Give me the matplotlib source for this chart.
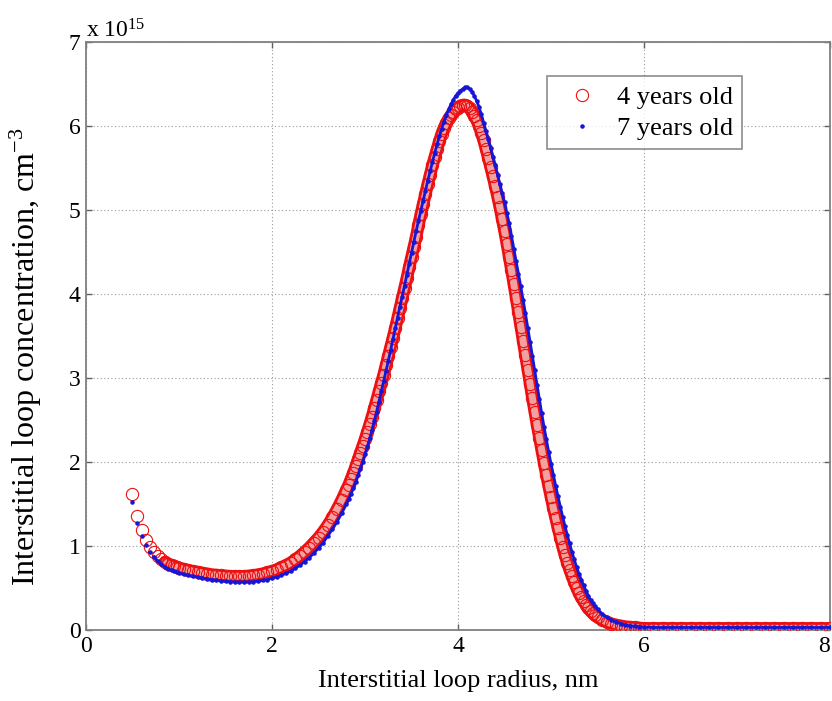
import matplotlib
matplotlib.use("Agg")
import matplotlib.pyplot as plt

# Loop radius, nm (sampling positions)
radius_nm = [
    0.49, 0.55, 0.60, 0.65, 0.69, 0.73, 0.77, 0.81, 0.85, 0.88, 0.92, 0.95, 0.98,
    1.00, 1.05, 1.10, 1.15, 1.20, 1.25, 1.30, 1.35, 1.40, 1.45,
    1.50, 1.55, 1.60, 1.65, 1.70, 1.75, 1.80, 1.85, 1.90, 1.95,
    2.00, 2.05, 2.10, 2.15, 2.20, 2.25, 2.30, 2.35, 2.40, 2.45,
    2.50, 2.55, 2.60, 2.65, 2.70, 2.75, 2.80,
    2.825, 2.850, 2.875, 2.900, 2.925, 2.950, 2.975, 3.000, 3.025, 3.050,
    3.075, 3.100, 3.125, 3.150, 3.175, 3.200, 3.225, 3.250, 3.275, 3.300,
    3.325, 3.350, 3.375, 3.400, 3.425, 3.450, 3.475, 3.500, 3.525, 3.550,
    3.575, 3.600, 3.625, 3.650, 3.675, 3.700, 3.725, 3.750, 3.775, 3.800,
    3.825, 3.850, 3.875, 3.900, 3.925, 3.950, 3.975, 4.000, 4.025, 4.050,
    4.075, 4.100, 4.125, 4.150, 4.175, 4.200, 4.225, 4.250, 4.275, 4.300,
    4.325, 4.350, 4.375, 4.400, 4.425, 4.450, 4.475, 4.500, 4.525, 4.550,
    4.575, 4.600, 4.625, 4.650, 4.675, 4.700, 4.725, 4.750, 4.775, 4.800,
    4.825, 4.850, 4.875, 4.900, 4.925, 4.950, 4.975, 5.000, 5.025, 5.050,
    5.075, 5.100, 5.125, 5.150, 5.175, 5.200, 5.225, 5.250, 5.275, 5.300,
    5.325, 5.350, 5.375, 5.400, 5.425, 5.450, 5.475, 5.500,
    5.55, 5.60, 5.65, 5.70, 5.75, 5.80, 5.85, 5.90, 5.95, 6.00,
    6.1, 6.2, 6.3, 6.4, 6.5, 6.6, 6.7, 6.8, 6.9, 7.0,
    7.1, 7.2, 7.3, 7.4, 7.5, 7.6, 7.7, 7.8, 7.9, 8.0,
]

# Concentration, units of 1e15 cm^-3 -- 4 years old
conc_4yr = [
    1.62, 1.36, 1.19, 1.07, 0.99, 0.93, 0.88, 0.84, 0.81, 0.79, 0.77, 0.76, 0.75,
    0.74, 0.725, 0.71, 0.70, 0.69, 0.68, 0.67, 0.66, 0.655, 0.65,
    0.645, 0.64, 0.64, 0.64, 0.64, 0.645, 0.65, 0.66, 0.67, 0.685,
    0.70, 0.72, 0.745, 0.77, 0.80, 0.84, 0.88, 0.93, 0.98, 1.04,
    1.10, 1.17, 1.25, 1.34, 1.44, 1.55, 1.67,
    1.73, 1.80, 1.87, 1.95, 2.03, 2.11, 2.19, 2.27, 2.36, 2.45,
    2.54, 2.64, 2.74, 2.84, 2.94, 3.04, 3.15, 3.26, 3.37, 3.48,
    3.59, 3.71, 3.83, 3.95, 4.07, 4.19, 4.32, 4.44, 4.56, 4.68,
    4.82, 4.95, 5.07, 5.19, 5.31, 5.42, 5.53, 5.63, 5.73, 5.82,
    5.91, 5.98, 6.04, 6.09, 6.13, 6.17, 6.20, 6.22, 6.24, 6.25,
    6.25, 6.24, 6.21, 6.17, 6.12, 6.07, 6.00, 5.92, 5.83, 5.73,
    5.62, 5.51, 5.40, 5.28, 5.16, 5.03, 4.89, 4.75, 4.60, 4.44,
    4.28, 4.12, 3.95, 3.78, 3.61, 3.44, 3.27, 3.10, 2.93, 2.76,
    2.60, 2.44, 2.29, 2.14, 1.99, 1.85, 1.71, 1.58, 1.45, 1.33,
    1.21, 1.10, 0.99, 0.89, 0.80, 0.72, 0.64, 0.57, 0.50, 0.44,
    0.39, 0.34, 0.30, 0.26, 0.23, 0.20, 0.175, 0.155,
    0.12, 0.095, 0.075, 0.06, 0.05, 0.04, 0.035, 0.03, 0.025, 0.02,
    0.02, 0.02, 0.02, 0.02, 0.02, 0.02, 0.02, 0.02, 0.02, 0.02,
    0.02, 0.02, 0.02, 0.02, 0.02, 0.02, 0.02, 0.02, 0.02, 0.02,
]

# Concentration, units of 1e15 cm^-3 -- 7 years old
conc_7yr = [
    1.52, 1.27, 1.12, 1.01, 0.93, 0.87, 0.82, 0.78, 0.75, 0.73, 0.71, 0.70, 0.69,
    0.68, 0.665, 0.65, 0.64, 0.63, 0.62, 0.61, 0.60, 0.59, 0.585,
    0.58, 0.575, 0.57, 0.57, 0.57, 0.57, 0.575, 0.58, 0.59, 0.60,
    0.615, 0.63, 0.65, 0.675, 0.70, 0.735, 0.77, 0.815, 0.86, 0.915,
    0.975, 1.04, 1.12, 1.20, 1.29, 1.39, 1.50,
    1.56, 1.62, 1.69, 1.76, 1.84, 1.92, 2.00, 2.09, 2.18, 2.28,
    2.38, 2.49, 2.60, 2.72, 2.84, 2.96, 3.08, 3.20, 3.33, 3.46,
    3.59, 3.72, 3.85, 3.97, 4.10, 4.23, 4.36, 4.49, 4.62, 4.75,
    4.87, 4.99, 5.11, 5.23, 5.35, 5.46, 5.57, 5.68, 5.78, 5.88,
    5.97, 6.05, 6.13, 6.20, 6.26, 6.31, 6.36, 6.39, 6.42, 6.44,
    6.46, 6.46, 6.44, 6.41, 6.36, 6.30, 6.23, 6.14, 6.04, 5.94,
    5.84, 5.74, 5.63, 5.53, 5.42, 5.31, 5.20, 5.09, 4.97, 4.84,
    4.69, 4.54, 4.39, 4.24, 4.09, 3.93, 3.77, 3.60, 3.43, 3.26,
    3.09, 2.92, 2.75, 2.58, 2.42, 2.27, 2.12, 1.98, 1.85, 1.72,
    1.59, 1.47, 1.35, 1.24, 1.13, 1.03, 0.93, 0.84, 0.75, 0.67,
    0.60, 0.53, 0.47, 0.41, 0.36, 0.32, 0.28, 0.25,
    0.19, 0.15, 0.12, 0.095, 0.075, 0.06, 0.05, 0.045, 0.04, 0.035,
    0.03, 0.03, 0.03, 0.03, 0.03, 0.03, 0.03, 0.03, 0.03, 0.03,
    0.03, 0.03, 0.03, 0.03, 0.03, 0.03, 0.03, 0.03, 0.03, 0.03,
]

series_labels = ["4 years old", "7 years old"]
x_ticks = [0, 2, 4, 6, 8]
y_ticks = [0, 1, 2, 3, 4, 5, 6, 7]

plt.rcParams["font.family"] = ["Liberation Serif", "DejaVu Serif"]
plt.rcParams["mathtext.fontset"] = "custom"
plt.rcParams["mathtext.rm"] = "Liberation Serif"
plt.rcParams["mathtext.it"] = "Liberation Serif:italic"

RED = "#ee1010"
BLUE = "#1616d8"

fig = plt.figure(figsize=(8.32, 7.01), dpi=100)
ax = fig.add_axes([86 / 832, 71 / 701, 744 / 832, 588 / 701])

# dense band look of the overlapping open circles (drawn from the same data)
ax.plot(radius_nm[8:], conc_4yr[8:], color=RED, linewidth=9.0,
        solid_capstyle="round", solid_joinstyle="round", zorder=2)
ax.plot(radius_nm[8:], conc_4yr[8:], color="#f2a0a0", linewidth=5.0,
        solid_capstyle="round", solid_joinstyle="round", zorder=2.1)
ax.plot(radius_nm, conc_4yr, linestyle="none", marker="o", markersize=8.8,
        markerfacecolor="none", markeredgecolor=RED, markeredgewidth=0.8,
        label=series_labels[0], zorder=3)

ax.plot(radius_nm[5:], conc_7yr[5:], color=BLUE, linewidth=2.0, zorder=3.5,
        solid_joinstyle="round")
ax.plot(radius_nm, conc_7yr, linestyle="none", marker=".", markersize=4.5,
        color=BLUE, label=series_labels[1], zorder=4)

ax.set_xlim(0, 8)
ax.set_ylim(0, 7)
ax.set_xticks(x_ticks)
ax.set_yticks(y_ticks)
ax.set_xticklabels([str(t) for t in x_ticks])
ax.set_yticklabels([str(t) for t in y_ticks])
xlabels = ax.get_xticklabels()
xlabels[-1].set_horizontalalignment("right")

ax.grid(True, color="#9a9a9a", linestyle=(0, (1, 2.2)), linewidth=0.8)
ax.set_axisbelow(True)

for sp in ax.spines.values():
    sp.set_color("#808080")
    sp.set_linewidth(1.3)

ax.tick_params(direction="in", length=4, width=1.0, color="#606060",
               top=True, right=True, labelsize=17, pad=4)

ax.set_xlabel("Interstitial loop radius, nm", fontsize=19, labelpad=10)
ax.set_ylabel(r"Interstitial loop concentration, cm$^{-3}$", fontsize=23)
ax.yaxis.set_label_coords(-0.056, 0.465)

ax.text(0.0, 1.0, r"x 10$^{15}$", transform=ax.transAxes, fontsize=17,
        ha="left", va="bottom")

leg = ax.legend(loc="upper right", bbox_to_anchor=(0.8817, 0.942), borderaxespad=0,
                fontsize=19, frameon=True, fancybox=False, handlelength=2.0,
                handletextpad=0.3, borderpad=0.35, labelspacing=0.3, numpoints=1)
leg.get_frame().set_edgecolor("#707070")
leg.get_frame().set_linewidth(1.2)

fig.savefig("out.png", dpi=100)
